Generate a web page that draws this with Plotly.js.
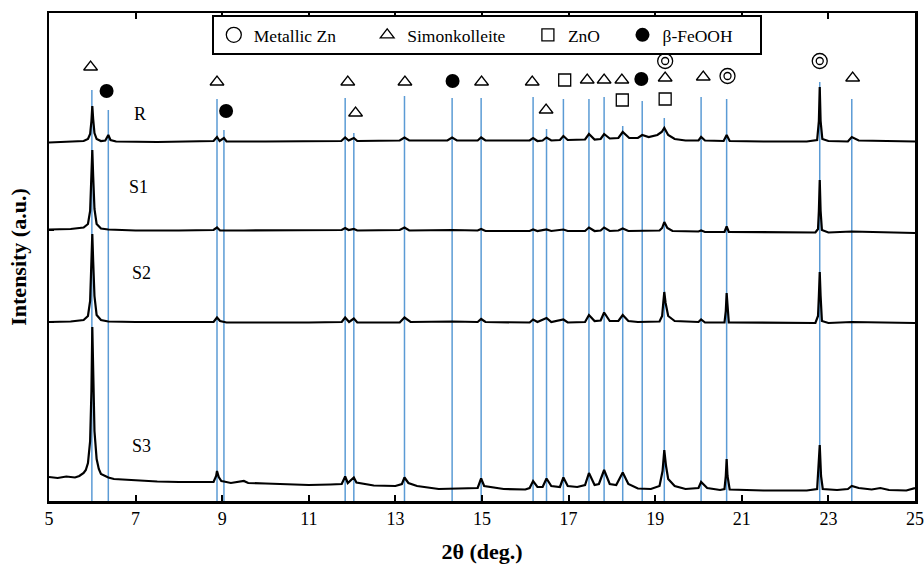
<!DOCTYPE html>
<html>
<head>
<meta charset="utf-8">
<script src="https://cdn.plot.ly/plotly-3.0.1.min.js"></script>
<style>
  html, body { margin: 0; padding: 0; background: #fff; }
  #chart { width: 924px; height: 566px; }
</style>
</head>
<body>
<div id="chart"></div>
<script>
// ---------- data (2θ in degrees, intensity in arbitrary stacked units) ----------
const rX = [5.0,5.5,5.8,5.9,5.95,5.98,6.0,6.02,6.05,6.1,6.2,6.3,6.37,6.42,6.55,7.5,8.5,8.8,8.88,8.94,9.04,9.1,10,11.0,11.75,11.84,11.92,12.04,12.12,13.1,13.21,13.32,14.2,14.31,14.42,14.9,14.98,15.08,16.1,16.18,16.28,16.4,16.49,16.6,16.8,16.88,16.98,17.38,17.47,17.6,17.74,17.82,17.95,18.15,18.25,18.4,18.6,18.70,18.85,19.05,19.15,19.21,19.3,19.45,19.7,20.0,20.06,20.15,20.58,20.65,20.72,21.5,22.5,22.74,22.78,22.80,22.82,22.86,23.0,23.45,23.54,23.7,24.5,25.0];
const rY = [358.5,359,360,362,367,380,395,382,368,362,360,360.5,366,361,359.5,359,359.5,360,364,360,363,359.5,359.5,360,360,363.5,360.5,363,360,360.5,363.5,360.5,360.5,363.5,360.5,360.5,363.5,360.5,360.5,363,360,360.5,363.5,360.5,361,365,361,361.5,367,361.5,362,367,362.5,363,369,363,363,366,364,366,369,373,366,362,360.5,360.5,364,360.5,360,366,360,359.5,359.5,361,380,414,380,362,360,359.5,364,360.5,359.5,359.5];

const s1X = [5.0,5.5,5.8,5.9,5.95,5.98,6.0,6.02,6.05,6.1,6.2,6.37,7.0,8.0,8.8,8.88,8.95,9.5,11.0,11.76,11.84,11.92,12.04,12.12,13.1,13.21,13.32,14.31,14.9,14.98,15.08,16.1,16.18,16.28,16.49,16.6,16.88,16.98,17.38,17.47,17.6,17.74,17.82,17.95,18.15,18.25,18.38,19.1,19.16,19.21,19.28,19.4,20.0,20.06,20.15,20.6,20.65,20.7,22.7,22.76,22.78,22.80,22.82,22.85,23.0,23.54,25.0];
const s1Y = [271.5,272,273.5,277,290,320,351,325,292,277,272.5,271.5,270.5,270.5,271,273.5,270.5,270.5,270.5,271,273,271,272,270.5,271,273.5,270.5,271,270.5,272,270,270,271.5,270,271.5,270,271.5,270,270,273.5,270,270.5,273.5,270,270.5,272.5,270,270.5,273,279,273,270,269.5,270.5,269,269,274.5,269,268.5,272,290,321,290,271,268.5,269.5,268];

const s2X = [5.0,5.5,5.8,5.9,5.95,5.98,6.0,6.02,6.05,6.1,6.2,6.37,7.0,8.8,8.88,8.95,9.04,9.1,11.0,11.76,11.84,11.93,12.04,12.12,13.1,13.21,13.35,14.31,14.9,14.98,15.08,16.1,16.18,16.28,16.49,16.6,16.88,16.98,17.38,17.47,17.6,17.74,17.82,17.95,18.15,18.25,18.38,18.6,19.1,19.16,19.19,19.21,19.24,19.3,19.45,20.0,20.06,20.15,20.6,20.63,20.65,20.67,20.7,22.7,22.76,22.78,22.80,22.82,22.85,23.0,23.54,25.0];
const s2Y = [179,179.5,181,185,200,235,267,240,205,186,181,179.5,179,179,183.5,180,179.5,178.5,178.5,179,183.5,179,182.5,178.5,178.5,183.5,179,179.5,179,182,179,178.5,181.5,179,183,179,181.5,178.5,179,186,180,180.5,188.5,180,180,186,180,179,179.5,185,200,209,198,185,180,179,181.5,178.5,178.5,190,208,190,178.5,178,185,205,229,205,180,178,179,178];

const s3X = [5.0,5.2,5.4,5.6,5.7,5.8,5.85,5.9,5.95,5.98,6.0,6.02,6.05,6.1,6.15,6.2,6.3,6.37,6.5,7.0,7.5,8.0,8.5,8.8,8.86,8.88,8.92,8.98,9.04,9.2,9.5,9.6,10.0,10.5,11.0,11.5,11.76,11.84,11.9,12.04,12.1,12.5,13.0,13.15,13.21,13.3,13.5,14.0,14.31,14.6,14.9,14.98,15.05,15.5,16.0,16.1,16.18,16.28,16.4,16.49,16.6,16.8,16.88,16.98,17.2,17.38,17.47,17.6,17.7,17.82,17.95,18.1,18.25,18.38,18.6,18.9,19.1,19.17,19.21,19.25,19.3,19.45,19.7,20.0,20.06,20.2,20.5,20.6,20.63,20.65,20.67,20.72,21.0,21.5,22.0,22.5,22.74,22.77,22.80,22.83,22.87,23.2,23.45,23.54,23.7,24.0,24.2,24.4,24.8,25.0];
const s3Y = [24,23,24.5,23.5,25,28,31,38,60,110,174,120,70,42,32,27,25,23.5,22,20.5,19.5,19,19,19,25,30,24,20,19.5,18,20,18,17.5,17,16,16.5,17,24.5,18,23.5,18.5,15.5,15,17,23.5,18,15,12,12.5,12.5,13,22.5,15,12,11.5,13,20,14,14,22.5,15,14,23.5,15,14,16,28,16,17,31,17,16,28.5,17,12.5,12,15,30,51,35,22,15,12,13,19,13,11,12,25,42,25,11.5,11,10.5,10.5,10.5,12,30,56,25,12,11,12,15,13,11.5,13,11,10.5,13];

// reference peak lines (2θ) and their top heights
const refLineX = [5.99,6.37,8.88,9.04,11.84,12.04,13.21,14.31,14.98,16.18,16.49,16.88,17.47,17.82,18.25,18.70,19.21,20.06,20.65,22.80,23.54];
const refLineTop = [411,391,402,371,403,368,405,403,403,404,372,402,402,404,375,400,383,404,402,419,402];

// phase markers
const simonX = [5.96,8.88,11.90,12.08,13.22,14.99,16.16,16.48,17.43,17.82,18.23,19.23,20.11,23.56];
const simonY = [434,419,419,388,419,419,419,391,421,421,421,423,424,423];
const feoohX = [6.33,9.09,14.32,18.68];
const feoohY = [410,390,420,422];
const znoX = [16.91,18.24,19.23];
const znoY = [421,401,402];
const znX = [19.23,20.67,22.80];
const znY = [440,425,440];

const sampleNames = ['R','S1','S2','S3'];
const sampleLabelX = [7.1,7.06,7.13,7.13];
const sampleLabelY = [387,314,228,55];

const xTicks = [5,7,9,11,13,15,17,19,21,23,25];
const legendNames = ['Metallic Zn','Simonkolleite','ZnO','\u03B2-FeOOH'];

// ---------- build ----------
const SERIF = '"Times New Roman", "Liberation Serif", Times, serif';
const NB = '\u00A0';
const pad = n => NB.repeat(n);

const lx = [], ly = [];
refLineX.forEach((x, i) => { lx.push(x, x, null); ly.push(0, refLineTop[i], null); });

const traces = [];
traces.push({x: lx, y: ly, mode: 'lines', line: {color: '#5b9bd5', width: 1.5},
  showlegend: false, hoverinfo: 'skip'});

[[rX, rY], [s1X, s1Y], [s2X, s2Y], [s3X, s3Y]].forEach((d, i) => {
  traces.push({x: d[0], y: d[1], mode: 'lines', name: sampleNames[i],
    line: {color: '#000', width: 2.2}, showlegend: false});
});

traces.push({x: znX, y: znY, mode: 'markers', name: legendNames[0] + pad(6),
  marker: {symbol: 'circle-open', size: 15, color: '#000', line: {width: 1.3, color: '#000'}}});
traces.push({x: znX, y: znY, mode: 'markers', showlegend: false,
  marker: {symbol: 'circle-open', size: 7, color: '#000', line: {width: 1.3, color: '#000'}}});
traces.push({x: simonX, y: simonY, mode: 'markers', name: legendNames[1] + pad(4),
  marker: {symbol: 'triangle-up-open', size: 12, color: '#000', line: {width: 1.3, color: '#000'}}});
traces.push({x: znoX, y: znoY, mode: 'markers', name: legendNames[2] + pad(4),
  marker: {symbol: 'square-open', size: 12, color: '#000', line: {width: 1.3, color: '#000'}}});
traces.push({x: feoohX, y: feoohY, mode: 'markers', name: legendNames[3] + pad(5),
  marker: {symbol: 'circle', size: 14, color: '#000'}});

const annotations = sampleNames.map((n, i) => ({
  x: sampleLabelX[i], y: sampleLabelY[i], xref: 'x', yref: 'y', text: n,
  showarrow: false, font: {family: SERIF, size: 18, color: '#000'}
}));

const layout = {
  width: 924, height: 566,
  margin: {l: 49, r: 9, t: 13, b: 65},
  paper_bgcolor: '#fff', plot_bgcolor: '#fff',
  font: {family: SERIF, color: '#000', size: 18},
  showlegend: true,
  legend: {orientation: 'h', x: 0.188, y: 0.996, xanchor: 'left', yanchor: 'top',
    bgcolor: '#fff', bordercolor: '#000', borderwidth: 2,
    font: {family: SERIF, size: 17.5, color: '#000'}, itemwidth: 30},
  xaxis: {range: [5, 25], tickvals: xTicks, ticktext: xTicks.map(String),
    ticks: 'inside', ticklen: 6, tickwidth: 2, tickcolor: '#000',
    showline: true, linewidth: 2.5, linecolor: '#000', mirror: 'ticks',
    showgrid: false, zeroline: false,
    tickfont: {family: SERIF, size: 18, color: '#000'},
    title: {text: '<b>2\u03B8 (deg.)</b>', font: {family: SERIF, size: 22, color: '#000'}, standoff: 16}},
  yaxis: {range: [0, 488], tickvals: [179, 271], showticklabels: false,
    ticks: 'inside', ticklen: 5, tickwidth: 2, tickcolor: '#000',
    showline: true, linewidth: 2.5, linecolor: '#000', mirror: true,
    showgrid: false, zeroline: false,
    title: {text: '<b>Intensity (a.u.)</b>', font: {family: SERIF, size: 22, color: '#000'}, standoff: 14}},
  annotations: annotations
};

Plotly.newPlot('chart', traces, layout, {displayModeBar: false, staticPlot: true});
</script>
</body>
</html>
